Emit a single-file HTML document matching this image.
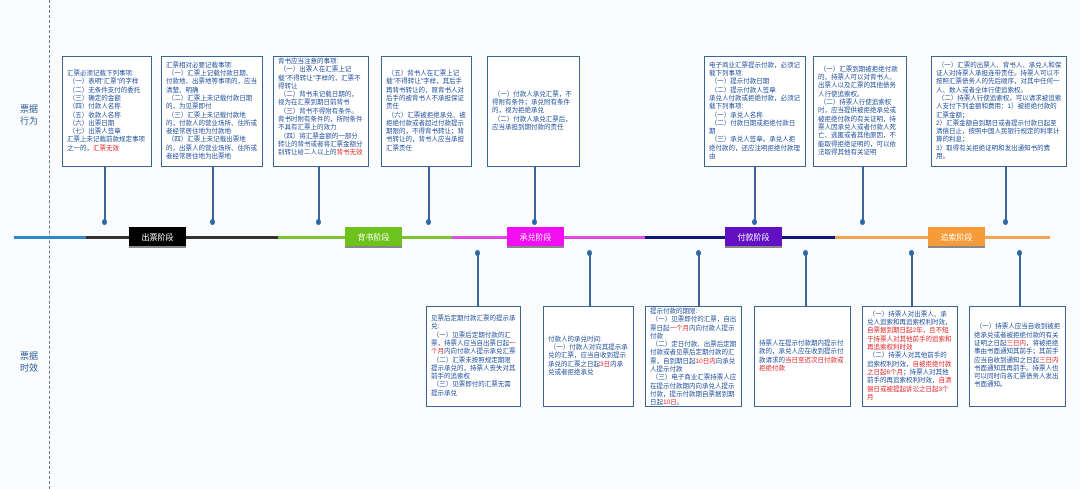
<!DOCTYPE html>
<html><head><meta charset="utf-8"><style>
body{margin:0;width:1080px;height:489px;background:#fafbfd;position:relative;overflow:hidden;font-family:"Liberation Sans","Noto Sans CJK SC",sans-serif}
.b{position:absolute;background:#fff;border:1.5px solid #3a6596;box-sizing:border-box;color:#1f4f9c;font-size:6.5px;line-height:8.3px;padding:2px 4px;display:flex;flex-direction:column;justify-content:center;overflow:hidden}
.b.t{justify-content:flex-start}
.r{color:#e3262a}
.v{position:absolute;width:1.5px;background:#3a6596}
.d{position:absolute;width:5px;height:6px;border-radius:50%;background:#2a69a8}
.seg{position:absolute;height:3px;top:236px}
.st{position:absolute;top:227px;width:57px;height:21px;color:#fff;font-size:8px;text-align:center;line-height:21px;border-bottom:2px solid #888;box-sizing:border-box}
.lab{position:absolute;left:20px;font-size:9px;color:#2a5d96;line-height:12px;text-align:center}
</style></head><body>
<div style="position:absolute;left:49px;top:0;height:489px;border-left:1.5px dashed #777"></div>
<div class="lab" style="top:103px">票据<br>行为</div>
<div class="lab" style="top:350px">票据<br>时效</div>

<div class="seg" style="left:14px;width:72px;background:#2f86cf"></div>
<div class="seg" style="left:86px;width:192px;background:#333"></div>
<div class="seg" style="left:278px;width:174px;background:#7cc23a"></div>
<div class="seg" style="left:452px;width:193px;background:#e24be0"></div>
<div class="seg" style="left:645px;width:190px;background:#0d1a7a"></div>
<div class="seg" style="left:835px;width:215px;background:#f0a554"></div>
<div class="st" style="left:129px;background:#000">出票阶段</div>
<div class="st" style="left:345px;background:#6dc21b">背书阶段</div>
<div class="st" style="left:507px;background:#f20df2">承兑阶段</div>
<div class="st" style="left:725px;background:#6310c4">付款阶段</div>
<div class="st" style="left:928px;background:#f79b3a">追索阶段</div>

<div class="b" style="left:62px;top:56px;width:90px;height:111px"><div>汇票必须记载下列事项:<br>&nbsp;（一）表明"汇票"的字样<br>&nbsp;（二）无条件支付的委托<br>&nbsp;（三）确定的金额<br>&nbsp;（四）付款人名称<br>&nbsp;（五）收款人名称<br>&nbsp;（六）出票日期<br>&nbsp;（七）出票人签章<br>汇票上未记载前款规定事项之一的，<span class="r">汇票无效</span></div></div>
<div class="b" style="left:161px;top:56px;width:102px;height:111px"><div>汇票相对必要记载事项:<br>&nbsp;（一）汇票上记载付款日期、付款地、出票地等事项的，应当清楚、明确<br>&nbsp;（二）汇票上未记载付款日期的，为见票即付<br>&nbsp;（三）汇票上未记载付款地的，付款人的营业场所、住所或者经常居住地为付款地<br>&nbsp;（四）汇票上未记载出票地的，出票人的营业场所、住所或者经常居住地为出票地</div></div>
<div class="b t" style="left:273px;top:56px;width:96px;height:111px;padding-top:1px"><div>背书应当注意的事项:<br>&nbsp;（一）出票人在汇票上记载"不得转让"字样的，汇票不得转让<br>&nbsp;（二）背书未记载日期的，视为在汇票到期日前背书<br>&nbsp;（三）背书不得附有条件。背书时附有条件的，所附条件不具有汇票上的效力<br>&nbsp;（四）将汇票金额的一部分转让的背书或者将汇票金额分别转让给二人以上的<span class="r">背书无效</span></div></div>
<div class="b" style="left:381px;top:56px;width:91px;height:111px"><div>&nbsp;（五）背书人在汇票上记载"不得转让"字样，其后手再背书转让的，原背书人对后手的被背书人不承担保证责任<br>&nbsp;（六）汇票被拒绝承兑、被拒绝付款或者超过付款提示期限的，不得背书转让；背书转让的，背书人应当承担汇票责任</div></div>
<div class="b" style="left:487px;top:56px;width:93px;height:111px"><div>&nbsp;（一）付款人承兑汇票，不得附有条件；承兑附有条件的，视为拒绝承兑<br>&nbsp;（二）付款人承兑汇票后，应当承担到期付款的责任</div></div>
<div class="b" style="left:704px;top:56px;width:102px;height:111px"><div>电子商业汇票提示付款，必须记载下列事项:<br>&nbsp;（一）提示付款日期<br>&nbsp;（二）提示付款人签章<br>承兑人付款或拒绝付款，必须记载下列事项:<br>&nbsp;（一）承兑人名称<br>&nbsp;（二）付款日期或拒绝付款日期<br>&nbsp;（三）承兑人签章。承兑人拒绝付款的，还应注明拒绝付款理由</div></div>
<div class="b" style="left:813px;top:56px;width:94px;height:111px"><div>&nbsp;（一）汇票到期被拒绝付款的，持票人可以对背书人、出票人以及汇票的其他债务人行使追索权。<br>&nbsp;（二）持票人行使追索权时，应当提供被拒绝承兑或被拒绝付款的有关证明，持票人因承兑人或者付款人死亡、逃匿或者其他原因，不能取得拒绝证明的，可以依法取得其他有关证明</div></div>
<div class="b" style="left:931px;top:56px;width:136px;height:111px"><div>&nbsp;（一）汇票的出票人、背书人、承兑人和保证人对持票人承担连带责任。持票人可以不按照汇票债务人的先后顺序，对其中任何一人、数人或者全体行使追索权。<br>&nbsp;（二）持票人行使追索权，可以请求被追索人支付下列金额和费用：1）被拒绝付款的汇票金额；<br>2）汇票金额自到期日或者提示付款日起至清偿日止，按照中国人民银行规定的利率计算的利息；<br>3）取得有关拒绝证明和发出通知书的费用。</div></div>

<div class="v" style="left:104px;top:167px;height:54px"></div><div class="d" style="left:102px;top:219px"></div>
<div class="v" style="left:212px;top:167px;height:54px"></div><div class="d" style="left:210px;top:219px"></div>
<div class="v" style="left:318px;top:167px;height:54px"></div><div class="d" style="left:316px;top:219px"></div>
<div class="v" style="left:428px;top:167px;height:54px"></div><div class="d" style="left:426px;top:219px"></div>
<div class="v" style="left:534px;top:167px;height:54px"></div><div class="d" style="left:532px;top:219px"></div>
<div class="v" style="left:754px;top:167px;height:54px"></div><div class="d" style="left:752px;top:219px"></div>
<div class="v" style="left:862px;top:167px;height:54px"></div><div class="d" style="left:860px;top:219px"></div>
<div class="v" style="left:1005px;top:167px;height:54px"></div><div class="d" style="left:1003px;top:219px"></div>

<div class="d" style="left:475px;top:250px"></div><div class="v" style="left:477px;top:252px;height:55px"></div>
<div class="d" style="left:587px;top:250px"></div><div class="v" style="left:589px;top:252px;height:55px"></div>
<div class="d" style="left:696px;top:250px"></div><div class="v" style="left:698px;top:252px;height:55px"></div>
<div class="d" style="left:803px;top:250px"></div><div class="v" style="left:805px;top:252px;height:55px"></div>
<div class="d" style="left:909px;top:250px"></div><div class="v" style="left:911px;top:252px;height:55px"></div>
<div class="d" style="left:1017px;top:250px"></div><div class="v" style="left:1019px;top:252px;height:55px"></div>

<div class="b" style="left:426px;top:306px;width:95px;height:101px"><div>见票后定期付款汇票的提示承兑:<br>&nbsp;（一）见票后定期付款的汇票，持票人应当自出票日起<span class="r">一个月</span>内向付款人提示承兑汇票<br>&nbsp;（二）汇票未按照规定期限提示承兑的，持票人丧失对其前手的追索权<br>&nbsp;（三）见票即付的汇票无需提示承兑</div></div>
<div class="b" style="left:543px;top:306px;width:91px;height:101px"><div>付款人的承兑时间:<br>&nbsp;（一）付款人对向其提示承兑的汇票，应当自收到提示承兑的汇票之日起<span class="r">3日</span>内承兑或者拒绝承兑</div></div>
<div class="b t" style="left:645px;top:306px;width:97px;height:101px;padding-top:1px"><div>提示付款的期限:<br>&nbsp;（一）见票即付的汇票，自出票日起<span class="r">一个月</span>内向付款人提示付款<br>&nbsp;（二）定日付款、出票后定期付款或者见票后定期付款的汇票，自到期日起<span class="r">10日内</span>向承兑人提示付款<br>&nbsp;（三）电子商业汇票持票人应在提示付款期内向承兑人提示付款，提示付款期自票据到期日起<span class="r">10日</span>。</div></div>
<div class="b" style="left:754px;top:306px;width:97px;height:101px"><div>持票人在提示付款期内提示付款的，承兑人应在收到提示付款请求的<span class="r">当日至迟次日付款或拒绝付款</span></div></div>
<div class="b" style="left:862px;top:306px;width:96px;height:101px"><div>&nbsp;（一）持票人对出票人、承兑人追索和再追索权利时效，<span class="r">自票据到期日起2年，且不短于持票人对其他前手的追索和再追索权利时效</span><br>&nbsp;（二）持票人对其他前手的追索权利时效，<span class="r">自被拒绝付款之日起6个月</span>；持票人对其他前手的再追索权利时效，<span class="r">自清偿日或被提起诉讼之日起3个月</span></div></div>
<div class="b" style="left:969px;top:306px;width:97px;height:101px"><div>&nbsp;（一）持票人应当自收到被拒绝承兑或者被拒绝付款的有关证明之日起<span class="r">三日内</span>，将被拒绝事由书面通知其前手；其前手应当自收到通知之日起<span class="r">三日内</span>书面通知其再前手。持票人也可以同时向各汇票债务人发出书面通知。</div></div>
</body></html>
